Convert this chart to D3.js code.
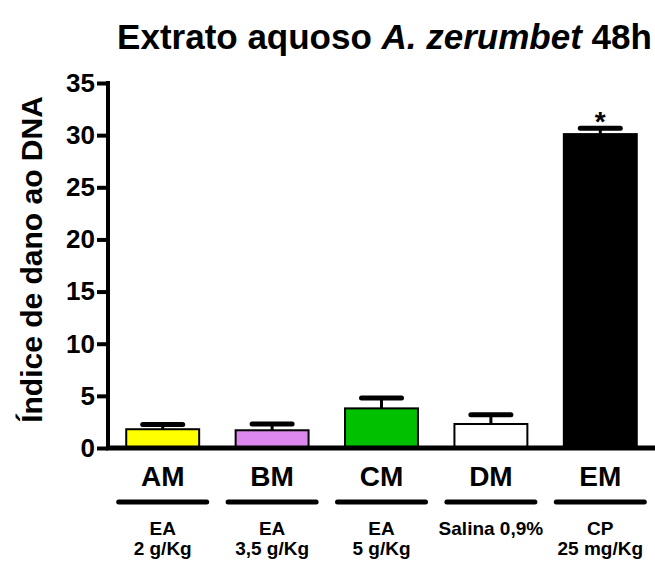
<!DOCTYPE html>
<html>
<head>
<meta charset="utf-8">
<script src="https://cdn.jsdelivr.net/npm/d3@7"></script>
<style>
  body { margin: 0; background: #fff; }
  text { font-family: "Liberation Sans", Arial, sans-serif; font-weight: bold; fill: #000; }
</style>
</head>
<body>
<script>
// data
var groups = ["AM", "BM", "CM", "DM", "EM"];
var means  = [1.8, 1.7, 3.8, 2.3, 30.1];
var sems   = [0.45, 0.6, 1.0, 0.9, 0.55];
var colors = ["#ffff00", "#dd88ee", "#00c000", "#ffffff", "#000000"];
var treatLine1 = ["EA", "EA", "EA", "Salina 0,9%", "CP"];
var treatLine2 = ["2 g/Kg", "3,5 g/Kg", "5 g/Kg", "", "25 mg/Kg"];
var signif = ["", "", "", "", "*"];
var yTicks = [0, 5, 10, 15, 20, 25, 30, 35];

var W = 655, H = 566;
var margin = {top: 83, right: 0, bottom: 118, left: 108};
var width = W - margin.left - margin.right,
    height = H - margin.top - margin.bottom;

var svg = d3.select("body").append("svg")
    .attr("width", W)
    .attr("height", H);

var g = svg.append("g")
    .attr("transform", "translate(" + margin.left + "," + margin.top + ")");

var x = d3.scaleBand().domain(groups).range([0, width])
    .paddingInner(1 / 3).paddingOuter(1 / 6);
var y = d3.scaleLinear().domain([0, 35]).range([height, 0]);

// title
svg.append("text")
    .attr("x", margin.left + width / 2 + 3)
    .attr("y", 49)
    .attr("text-anchor", "middle")
    .style("font-size", "35px")
    .call(function(t) {
      t.append("tspan").text("Extrato aquoso ");
      t.append("tspan").style("font-style", "italic").text("A. zerumbet");
      t.append("tspan").text(" 48h");
    });

// y axis label
svg.append("text")
    .attr("transform", "translate(42," + (margin.top + height / 2 - 6) + ") rotate(-90)")
    .attr("text-anchor", "middle")
    .style("font-size", "30px")
    .text("Índice de dano ao DNA");

// bars
var bar = g.selectAll(".bar")
    .data(groups)
  .enter().append("g")
    .attr("class", "bar");

bar.append("rect")
    .attr("x", function(d) { return x(d); })
    .attr("y", function(d, i) { return y(means[i]); })
    .attr("width", x.bandwidth())
    .attr("height", function(d, i) { return height - y(means[i]); })
    .attr("fill", function(d, i) { return colors[i]; })
    .attr("stroke", "#000")
    .attr("stroke-width", 2);

// error bars (upper only)
var capW = 40;
bar.append("line")
    .attr("x1", function(d) { return x(d) + x.bandwidth() / 2; })
    .attr("x2", function(d) { return x(d) + x.bandwidth() / 2; })
    .attr("y1", function(d, i) { return y(means[i]); })
    .attr("y2", function(d, i) { return y(means[i] + sems[i]); })
    .attr("stroke", "#000")
    .attr("stroke-width", 3);

bar.append("line")
    .attr("x1", function(d) { return x(d) + x.bandwidth() / 2 - capW / 2; })
    .attr("x2", function(d) { return x(d) + x.bandwidth() / 2 + capW / 2; })
    .attr("y1", function(d, i) { return y(means[i] + sems[i]); })
    .attr("y2", function(d, i) { return y(means[i] + sems[i]); })
    .attr("stroke", "#000")
    .attr("stroke-width", 5)
    .attr("stroke-linecap", "round");

bar.append("text")
    .attr("x", function(d) { return x(d) + x.bandwidth() / 2; })
    .attr("y", function(d, i) { return y(means[i] + sems[i]) + 3; })
    .attr("text-anchor", "middle")
    .style("font-size", "28px")
    .text(function(d, i) { return signif[i]; });

// y axis
var yAxis = g.append("g")
    .call(d3.axisLeft(y).tickValues(yTicks).tickSize(11).tickPadding(2));
yAxis.select(".domain").remove();
yAxis.selectAll(".tick line").attr("stroke-width", 4);
yAxis.selectAll(".tick text")
    .attr("fill", "#000")
    .style("font-size", "26px")
    .style("font-family", "'Liberation Sans', Arial, sans-serif")
    .style("font-weight", "bold");
g.append("line")
    .attr("x1", 0).attr("x2", 0)
    .attr("y1", -2).attr("y2", height + 2)
    .attr("stroke", "#000").attr("stroke-width", 4);

// x axis baseline
g.append("line")
    .attr("x1", -2).attr("x2", width)
    .attr("y1", height).attr("y2", height)
    .attr("stroke", "#000").attr("stroke-width", 5);

// group labels and treatment annotations
var lab = g.selectAll(".lab")
    .data(groups)
  .enter().append("g")
    .attr("class", "lab")
    .attr("transform", function(d) { return "translate(" + (x(d) + x.bandwidth() / 2) + "," + height + ")"; });

lab.append("text")
    .attr("y", 38)
    .attr("text-anchor", "middle")
    .style("font-size", "28px")
    .text(function(d) { return d; });

lab.append("line")
    .attr("x1", -44).attr("x2", 44)
    .attr("y1", 54).attr("y2", 54)
    .attr("stroke", "#000").attr("stroke-width", 5)
    .attr("stroke-linecap", "round");

lab.append("text")
    .attr("y", 87)
    .attr("text-anchor", "middle")
    .style("font-size", "19px")
    .text(function(d, i) { return treatLine1[i]; });

lab.append("text")
    .attr("y", 107)
    .attr("text-anchor", "middle")
    .style("font-size", "19px")
    .text(function(d, i) { return treatLine2[i]; });
</script>
</body>
</html>
